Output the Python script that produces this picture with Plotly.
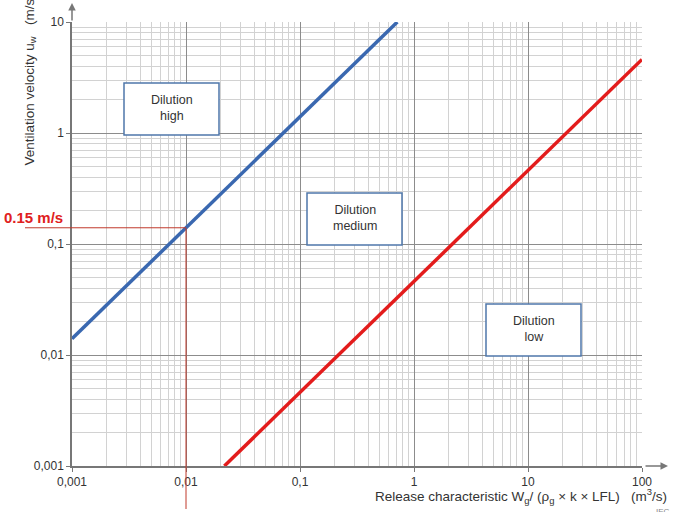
import numpy as np
import plotly.graph_objects as go

# ---- data ----
tick_vals_x = [0.001, 0.01, 0.1, 1, 10, 100]
tick_text_x = ["0,001", "0,01", "0,1", "1", "10", "100"]
tick_vals_y = [0.001, 0.01, 0.1, 1, 10]
tick_text_y = ["0,001", "0,01", "0,1", "1", "10"]

blue_x = [0.001, 0.714]      # boundary high / medium
blue_y = [0.014, 10]
red_x = [0.0217, 100]        # boundary medium / low
red_y = [0.001, 4.6]

guide_x = 0.01
guide_y = 0.14
guide_label = "0.15 m/s"

zones = ["Dilution<br>high", "Dilution<br>medium", "Dilution<br>low"]

# ---- layout helpers ----
W, H = 673, 512
L, R, T, B = 72, 642, 22, 466
XR = [-3, 2]
YR = [-3, 1]

def px(xp):
    return (xp - L) / (R - L)

def py(yp):
    return (B - yp) / (B - T)

def xdata_to_paper(v):
    return (np.log10(v) - XR[0]) / (XR[1] - XR[0])

def ydata_to_paper(v):
    return (np.log10(v) - YR[0]) / (YR[1] - YR[0])

FONT = "Liberation Sans, Arial, sans-serif"

fig = go.Figure()
fig.add_trace(go.Scatter(x=blue_x, y=blue_y, mode="lines",
                         line=dict(color="#3a68b0", width=3.5), showlegend=False))
fig.add_trace(go.Scatter(x=red_x, y=red_y, mode="lines",
                         line=dict(color="#e31c1c", width=3.5), showlegend=False))

axis_common = dict(type="log", showgrid=True, gridcolor="#8c8c8c", gridwidth=1,
                   showline=True, linecolor="#777777", linewidth=1.5,
                   ticks="outside", ticklen=4, tickcolor="#777777",
                   tickfont=dict(family=FONT, size=12, color="#333333"),
                   zeroline=False,
                   minor=dict(dtick="D1", showgrid=True, gridcolor="#d2d2d2", gridwidth=1, ticks=""))

fig.update_xaxes(range=XR, tickvals=tick_vals_x, ticktext=tick_text_x, **axis_common)
fig.update_yaxes(range=YR, tickvals=tick_vals_y, ticktext=tick_text_y, **axis_common)

shapes = []
# guide lines
shapes.append(dict(type="line", xref="paper", yref="y", x0=px(25), x1=xdata_to_paper(guide_x),
                   y0=guide_y, y1=guide_y, line=dict(color="#c0392b", width=1)))
shapes.append(dict(type="line", xref="x", yref="paper", x0=guide_x, x1=guide_x,
                   y0=py(509), y1=ydata_to_paper(guide_y), line=dict(color="#c0392b", width=1)))
# zone boxes
boxes = [(124, 83, 219, 135), (307, 193, 402, 245), (486, 304, 581, 356)]
annotations = []
for (x0, y0, x1, y1), txt in zip(boxes, zones):
    shapes.append(dict(type="rect", xref="paper", yref="paper",
                       x0=px(x0), x1=px(x1), y0=py(y1), y1=py(y0),
                       fillcolor="white", line=dict(color="#4f77aa", width=1.5), layer="above"))
    annotations.append(dict(xref="paper", yref="paper", x=px((x0 + x1) / 2), y=py((y0 + y1) / 2 - 1),
                            xanchor="center", yanchor="middle",
                            text=txt, showarrow=False,
                            font=dict(family=FONT, size=12.5, color="#333333")))

# axis arrows
annotations.append(dict(xref="paper", yref="paper", x=px(668), y=0, ax=-24, ay=0,
                        axref="pixel", ayref="pixel", text="", showarrow=True,
                        arrowhead=2, arrowsize=1, arrowwidth=1.5, arrowcolor="#777777"))
annotations.append(dict(xref="paper", yref="paper", x=0, y=py(3), ax=0, ay=19,
                        axref="pixel", ayref="pixel", text="", showarrow=True,
                        arrowhead=2, arrowsize=1, arrowwidth=1.5, arrowcolor="#777777"))

# guide label
annotations.append(dict(xref="paper", yref="y", x=px(65), y=np.log10(guide_y),
                        xanchor="right", yanchor="bottom", yshift=0,
                        text="<b>" + guide_label + "</b>", showarrow=False,
                        font=dict(family=FONT, size=15, color="#e02020")))

# axis titles
annotations.append(dict(xref="paper", yref="paper", x=px(669), y=py(496),
                        xanchor="right", yanchor="middle", showarrow=False,
                        text="Release characteristic W<sub>g</sub>/ (ρ<sub>g</sub> × k × LFL)&nbsp;&nbsp;&nbsp;(m<sup>3</sup>/s)",
                        font=dict(family=FONT, size=13.5, color="#333333")))
annotations.append(dict(xref="paper", yref="paper", x=px(30), y=py(168),
                        xanchor="center", yanchor="bottom", textangle=-90, showarrow=False,
                        text="Ventilation velocity u<sub>w</sub>&nbsp;&nbsp;&nbsp;(m/s)",
                        font=dict(family=FONT, size=13.5, color="#333333")))
annotations.append(dict(xref="paper", yref="paper", x=px(672), y=py(505),
                        xanchor="right", yanchor="top", showarrow=False,
                        text="IEC", font=dict(family=FONT, size=8, color="#888888")))

fig.update_layout(width=W, height=H, margin=dict(l=L, r=W - R, t=T, b=H - B),
                  paper_bgcolor="white", plot_bgcolor="white",
                  shapes=shapes, annotations=annotations, showlegend=False)

fig.write_html("out.html")
